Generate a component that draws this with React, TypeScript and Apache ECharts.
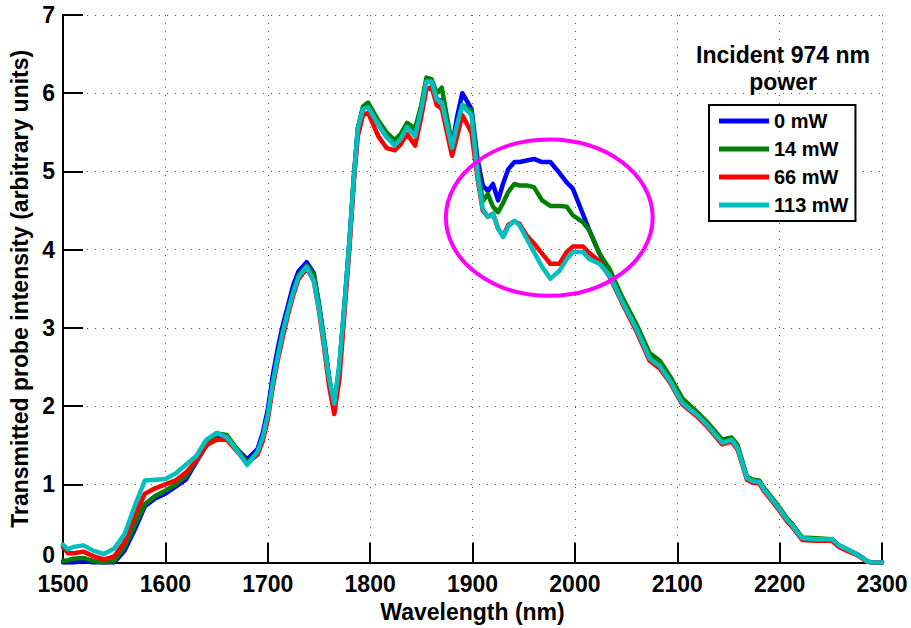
import React, { useEffect, useRef } from "react";
import * as echarts from "echarts";

const wavelengths = [
  1500, 1505, 1510, 1520, 1530, 1540, 1550, 1560, 1570, 1580, 1590, 1600, 1610, 1620, 1630, 1640, 1650, 1660, 1670, 1680, 1690,
  1695, 1700, 1705, 1710, 1715, 1720, 1725, 1730, 1738,
  1745, 1750, 1755, 1760, 1765, 1770, 1775, 1780, 1784, 1788, 1793, 1798,
  1808, 1816, 1824, 1830, 1836, 1844, 1850, 1855, 1860, 1865, 1870, 1875, 1880, 1885, 1890, 1899,
  1905, 1910, 1915, 1920, 1925, 1930, 1935, 1941, 1946, 1953, 1960, 1968, 1976, 1985, 1992, 1998,
  2008, 2014, 2024, 2034, 2046, 2060, 2073, 2083, 2093, 2105, 2119, 2129, 2144, 2153, 2159, 2168, 2174, 2180, 2185, 2193, 2200,
  2207, 2212, 2222, 2236, 2251, 2258, 2266, 2275, 2280, 2285, 2290, 2300,
];

const power0mW = [
  0, 0, 0, 0.02, 0, 0, 0, 0.15, 0.42, 0.72, 0.82, 0.88, 0.97, 1.06, 1.28, 1.5, 1.62, 1.6, 1.45, 1.32, 1.45,
  1.65, 1.95, 2.4, 2.75, 3.05, 3.3, 3.55, 3.72, 3.84,
  3.7, 3.3, 2.85, 2.35, 2.0, 2.5, 3.3, 4.15, 4.92, 5.55, 5.8, 5.85,
  5.6, 5.45, 5.35, 5.43, 5.58, 5.47, 5.82, 6.17, 6.15, 5.93, 5.9, 5.62, 5.32, 5.7, 6.0, 5.8,
  5.15, 4.82, 4.75, 4.84, 4.63, 4.85, 5.03, 5.12, 5.12, 5.14, 5.16, 5.12, 5.12, 4.98, 4.86, 4.78,
  4.45, 4.25, 3.95, 3.7, 3.38, 3.02, 2.64, 2.54, 2.34, 2.06, 1.9, 1.77, 1.54, 1.58, 1.47, 1.09, 1.05, 1.04, 0.94, 0.81, 0.69,
  0.56, 0.49, 0.31, 0.3, 0.3, 0.21, 0.16, 0.11, 0.07, 0.02, 0, 0,
];

const power14mW = [
  0.02, 0.03, 0.05, 0.06, 0.02, 0.0, 0.02, 0.2, 0.48, 0.75, 0.85, 0.92, 1.0, 1.1, 1.3, 1.5, 1.65, 1.63, 1.45, 1.28, 1.4,
  1.58, 1.88, 2.3, 2.65, 2.97, 3.23, 3.47, 3.67, 3.8,
  3.68, 3.3, 2.85, 2.35, 2.0, 2.5, 3.3, 4.12, 4.9, 5.55, 5.83, 5.88,
  5.65, 5.5, 5.4, 5.48, 5.62, 5.55, 5.85, 6.2, 6.18, 6.0, 6.07, 5.7, 5.35, 5.6, 5.85, 5.78,
  5.05, 4.62, 4.71, 4.55, 4.48, 4.6, 4.74, 4.84, 4.82, 4.82, 4.8, 4.63, 4.56, 4.56, 4.55, 4.44,
  4.35, 4.25, 3.95, 3.75, 3.4, 3.05, 2.68, 2.58, 2.38, 2.1, 1.93, 1.8, 1.57, 1.6, 1.5, 1.1, 1.06, 1.05, 0.95, 0.82, 0.7,
  0.57, 0.5, 0.32, 0.31, 0.3, 0.22, 0.17, 0.11, 0.07, 0.02, 0, 0,
];

const power66mW = [
  0.2, 0.12, 0.12, 0.14, 0.08, 0.04, 0.08, 0.26, 0.6, 0.88, 0.95, 1.0, 1.05, 1.15, 1.3, 1.5, 1.57, 1.57, 1.42, 1.27, 1.38,
  1.55, 1.82, 2.25, 2.6, 2.9, 3.18, 3.42, 3.62, 3.76,
  3.6, 3.22, 2.75, 2.25, 1.9, 2.35, 3.2, 4.05, 4.85, 5.45, 5.72, 5.75,
  5.45, 5.3, 5.27, 5.35, 5.48, 5.33, 5.7, 6.05, 6.08, 5.85, 5.8, 5.5, 5.2, 5.45, 5.72, 5.5,
  4.9, 4.5, 4.42, 4.46, 4.27, 4.17, 4.32, 4.36, 4.33, 4.18, 4.08, 3.95, 3.82, 3.82, 3.97, 4.04,
  4.04, 3.96, 3.85, 3.65, 3.32, 2.96, 2.58, 2.48, 2.3, 2.02, 1.87, 1.74, 1.51, 1.55, 1.44, 1.06, 1.02, 1.01, 0.91, 0.78, 0.66,
  0.53, 0.46, 0.29, 0.28, 0.28, 0.2, 0.15, 0.1, 0.06, 0.01, 0, 0,
];

const power113mW = [
  0.23, 0.17, 0.2, 0.22, 0.15, 0.11, 0.18, 0.36, 0.72, 1.05, 1.06, 1.07, 1.14, 1.25, 1.36, 1.57, 1.66, 1.6, 1.43, 1.25, 1.42,
  1.6, 1.88, 2.3, 2.65, 2.96, 3.22, 3.46, 3.65, 3.78,
  3.6, 3.25, 2.8, 2.35, 2.03, 2.55, 3.3, 4.14, 4.9, 5.55, 5.8, 5.82,
  5.6, 5.44, 5.33, 5.42, 5.57, 5.45, 5.8, 6.15, 6.15, 5.92, 5.88, 5.6, 5.3, 5.6, 5.85, 5.72,
  4.95, 4.52, 4.42, 4.46, 4.27, 4.16, 4.3, 4.37, 4.31, 4.14, 3.97, 3.78, 3.63, 3.73, 3.88, 3.97,
  3.97, 3.88, 3.82, 3.67, 3.34, 2.99, 2.61, 2.51, 2.32, 2.04, 1.89, 1.76, 1.53, 1.57, 1.46, 1.08, 1.04, 1.03, 0.93, 0.8, 0.68,
  0.55, 0.48, 0.31, 0.3, 0.3, 0.22, 0.17, 0.11, 0.07, 0.02, 0, 0,
];

const seriesNames = ["0 mW", "14 mW", "66 mW", "113 mW"];
const seriesValues = [power0mW, power14mW, power66mW, power113mW];
const seriesColors = ["#0000ff", "#008000", "#ff0000", "#00bfbf"];

const legendTitle = ["Incident 974 nm", "power"];
// highlighted region (data units): centre wavelength, centre intensity, half-width, half-height
const highlightCenter = [1975, 4.41];
const highlightRadius = [101, 1.0];

const FONT = '"Liberation Sans", Arial, Helvetica, sans-serif';

export default function App() {
  const ref = useRef<HTMLDivElement>(null);

  useEffect(() => {
    if (!ref.current) return;
    const chart = echarts.init(ref.current, undefined, { renderer: "svg" });
    const axisText = { fontSize: 23, fontWeight: "bold", color: "#000", fontFamily: FONT };
    chart.setOption({
      animation: false,
      textStyle: { fontFamily: FONT },
      grid: { left: 63, right: 29, top: 15, bottom: 63 },
      xAxis: {
        type: "value",
        min: 1500,
        max: 2300,
        interval: 100,
        name: "Wavelength (nm)",
        nameLocation: "middle",
        nameGap: 31,
        nameTextStyle: axisText,
        axisLine: { onZero: false, lineStyle: { color: "#000", width: 2 } },
        axisTick: { show: true, inside: true, length: 20, lineStyle: { color: "#000", width: 2 } },
        axisLabel: { ...axisText, margin: 11, lineHeight: 20, formatter: (v: number) => String(v) },
        splitLine: { show: true, lineStyle: { color: "#555", type: [1, 7], width: 1 } },
      },
      yAxis: {
        type: "value",
        min: 0,
        max: 7,
        interval: 1,
        name: "Transmitted probe intensity (arbitrary units)",
        nameLocation: "middle",
        nameGap: 30,
        nameTextStyle: axisText,
        axisLine: { onZero: false, lineStyle: { color: "#000", width: 2 } },
        axisTick: { show: true, inside: true, length: 20, lineStyle: { color: "#000", width: 2 } },
        axisLabel: {
          ...axisText,
          margin: 8,
          lineHeight: 17,
          formatter: (v: number) => (v === 0 ? "{zero|0}" : String(v)),
          rich: {
            zero: { ...axisText, lineHeight: 17, padding: [0, 0, 16, 0] },
          },
        },
        splitLine: { show: true, lineStyle: { color: "#555", type: [1, 7], width: 1 } },
      },
      legend: {
        data: seriesNames,
        orient: "vertical",
        left: 709,
        top: 105,
        icon: "rect",
        itemWidth: 50,
        itemHeight: 5,
        itemGap: 6,
        padding: [5, 7, 5, 10],
        borderColor: "#000",
        borderWidth: 2,
        backgroundColor: "#fff",
        textStyle: { fontSize: 20, fontWeight: "bold", color: "#000", fontFamily: FONT, lineHeight: 22 },
      },
      series: seriesNames.map((name, s) => ({
        name,
        type: "line",
        showSymbol: false,
        symbol: "none",
        color: seriesColors[s],
        lineStyle: { width: 4.5, color: seriesColors[s], join: "round", cap: "round" },
        data: wavelengths.map((w, i) => [w, seriesValues[s][i]]),
      })),
    });

    const c = chart.convertToPixel({ gridIndex: 0 }, highlightCenter) as number[];
    const e = chart.convertToPixel({ gridIndex: 0 }, [
      highlightCenter[0] + highlightRadius[0],
      highlightCenter[1] + highlightRadius[1],
    ]) as number[];
    const titleStyle = {
      fontSize: 23,
      fontWeight: "bold",
      fontFamily: FONT,
      fill: "#000",
      align: "center",
      verticalAlign: "middle",
      textAlign: "center",
      textVerticalAlign: "middle",
    };
    chart.setOption({
      graphic: [
        { type: "text", x: 783, y: 55, z: 100, style: { ...titleStyle, text: legendTitle[0] } },
        { type: "text", x: 783, y: 82, z: 100, style: { ...titleStyle, text: legendTitle[1] } },
        {
          type: "ellipse",
          z: 100,
          shape: { cx: c[0], cy: c[1], rx: Math.abs(e[0] - c[0]), ry: Math.abs(c[1] - e[1]) },
          style: { fill: "none", stroke: "#ff00ff", lineWidth: 4 },
        },
      ],
    });

    return () => chart.dispose();
  }, []);

  return (
    <div
      ref={ref}
      style={{ position: "fixed", left: 0, top: 0, width: 911, height: 628, background: "#fff" }}
    />
  );
}
